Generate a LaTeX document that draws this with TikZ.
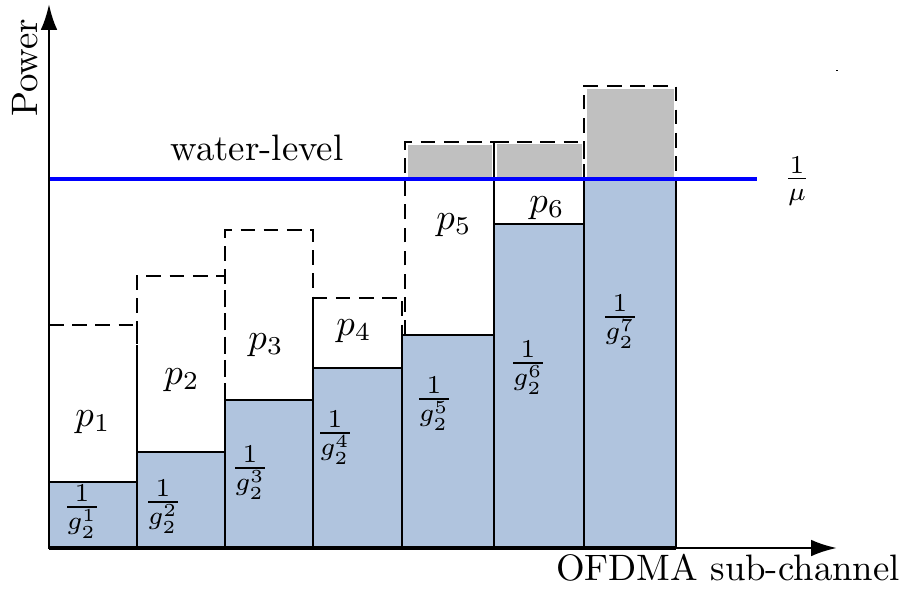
\documentclass[tikz,border=0pt]{standalone}
\usetikzlibrary{arrows.meta}
\definecolor{barblue}{RGB}{176,196,222}
\definecolor{spill}{RGB}{192,192,192}
\begin{document}
\begin{tikzpicture}[x=0.2717pt,y=-0.2717pt,
  bar/.style={fill=barblue,draw=black,line width=0.75pt},
  excess/.style={fill=spill,draw=none},
  budget/.style={draw=black,dash pattern=on 4pt off 2.3pt,line width=0.8pt},
  axisline/.style={line width=0.7pt,-{Latex[length=7pt,width=4.5pt]}},
  level/.style={blue,line width=1.1pt},
  lbl/.style={inner sep=0pt}]
\useasboundingbox (0,0) rectangle (904,598);
% base bars 1/g
\draw[bar] (49,548) rectangle (137,482);
\draw[bar] (137,548) rectangle (225,452);
\draw[bar] (225,548) rectangle (313,400);
\draw[bar] (313,548) rectangle (402,368);
\draw[bar] (402,548) rectangle (494,335);
\draw[bar] (494,548) rectangle (584,224);
\draw[bar] (584,548) rectangle (676,179);
% excess above water level
\fill[spill] (408,145) rectangle (492,177);
\fill[spill] (497,144) rectangle (582,177);
\fill[spill] (587,89) rectangle (674,177);
% dashed budgets
\draw[budget] (49,325) -- (137,325) -- (137,452);
\draw[budget] (137,452) -- (137,276) -- (225,276) -- (225,400);
\draw[budget] (225,400) -- (225,230) -- (313,230) -- (313,368);
\draw[budget] (313,368) -- (313,298) -- (402,298) -- (402,335);
\draw[budget] (405,335) -- (405,142) -- (494,142);
\draw[budget] (494,142) -- (584,142) -- (584,179);
\draw[budget] (584,179) -- (584,86) -- (676,86) -- (676,179);
\draw[line width=0.75pt] (494,142) -- (494,224);
% water level
\coordinate (wl0) at (49,179);
\coordinate (wl1) at (757,179);
\draw[level] (wl0) -- (wl1);
% axes
\coordinate (o) at (49,548);
\coordinate (ytip) at (49,4);
\coordinate (xtip) at (837,548);
\draw[axisline] (o) -- (ytip);
\draw[axisline] (o) -- (xtip);
\draw[line width=1pt] (49,548) -- (676,548);
\fill (836,69.5) rectangle (837.5,71);
% labels
\node[lbl,rotate=90] (ylab) at (25,68) {Power};
\node[lbl,anchor=base] (xlab) at (728,580) {OFDMA sub-channel};
\node[lbl,anchor=base] (wlab) at (257,160) {water-level};
\node[lbl] (mu) at (797,181) {$\frac{1}{\mu}$};
\node[lbl] (p1) at (93,422) {$p_1$};
\node[lbl] (p2) at (182,380) {$p_2$};
\node[lbl] (p3) at (266,345) {$p_3$};
\node[lbl] (p4) at (354,331) {$p_4$};
\node[lbl] (p5) at (454,225) {$p_5$};
\node[lbl] (p6) at (547,208) {$p_6$};
\node[lbl] (g1) at (82,512) {$\frac{1}{g_2^1}$};
\node[lbl] (g2) at (163,507) {$\frac{1}{g_2^2}$};
\node[lbl] (g3) at (250,473) {$\frac{1}{g_2^3}$};
\node[lbl] (g4) at (335,438) {$\frac{1}{g_2^4}$};
\node[lbl] (g5) at (434,404) {$\frac{1}{g_2^5}$};
\node[lbl] (g6) at (528,368) {$\frac{1}{g_2^6}$};
\node[lbl] (g7) at (620,322) {$\frac{1}{g_2^7}$};
\end{tikzpicture}
\end{document}
